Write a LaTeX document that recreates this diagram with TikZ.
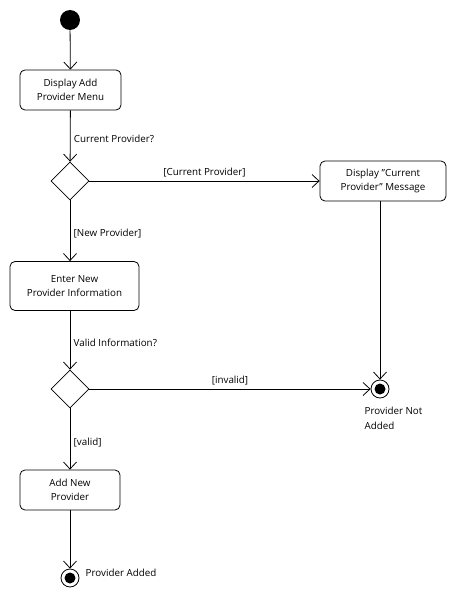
\documentclass[tikz,border=0pt]{standalone}
\usepackage{fontspec}
\setmainfont{Open Sans}
\usetikzlibrary{arrows.meta,shapes.geometric}

\tikzset{
  action/.style={draw, rounded corners=5pt, align=center, inner sep=0pt, minimum height=40pt},
  decision/.style={draw, diamond, shape aspect=1, inner sep=0pt, minimum width=38pt, minimum height=38pt},
  initial/.style={circle, fill=black, inner sep=0pt, minimum size=20pt},
  final/.style={circle, draw, inner sep=0pt, minimum size=18pt},
  flow/.style={-{Straight Barb[length=7pt,width=13pt]}},
  guard/.style={font=\fontsize{9.8}{15}\selectfont}
}

\begin{document}
\begin{tikzpicture}[x=1pt,y=-1pt, font=\fontsize{9.8}{14.5}\selectfont, line width=0.8pt]
    \useasboundingbox (0,0) rectangle (470,610);

    % nodes
    \node[initial] (start) at (70,20) {};
    \node[action, minimum width=101pt] (menu) at (70.5,90) {Display Add\\Provider Menu};
    \node[decision] (curdec) at (70,181) {};
    \node[action, minimum width=126pt] (curmsg) at (383,181) {Display \char34 Current\\Provider\char34{} Message};
    \node[action, minimum width=129pt, minimum height=49pt] (enter) at (74.5,286) {Enter New\\Provider Information};
    \node[decision] (validdec) at (70,389) {};
    \node[final] (notadded) at (380,389) {};
    \fill (notadded) circle (5.5pt);
    \node[action, minimum width=100pt] (add) at (70,490) {Add New\\Provider};
    \node[final] (added) at (70,578) {};
    \fill (added) circle (5.5pt);

    % flows
    \draw[flow] (start) -- (menu);
    \draw[flow] (menu) -- node[pos=0.55, right, guard]{Current Provider?} (curdec);
    \draw[flow] (curdec.east) -- node[above, guard]{[Current Provider]} (curmsg.west);
    \draw[flow] (curdec.south) -- node[pos=0.55, right, guard]{[New Provider]} (curdec.south |- enter.north);
    \draw[flow] (curmsg.south -| notadded) -- (notadded.north);
    \draw[flow] (enter.south -| validdec) -- node[pos=0.55, right, guard]{Valid Information?} (validdec.north);
    \draw[flow] (validdec.east) -- node[above, guard]{[invalid]} (notadded.west);
    \draw[flow] (validdec.south) -- node[pos=0.55, right, guard]{[valid]} (add);
    \draw[flow] (add) -- (added);

    % labels
    \node[anchor=north west, align=left, guard] (notaddedlbl) at (361,403) {Provider Not\\Added};
    \node[anchor=west, guard] (addedlbl) at (82,573) {Provider Added};
\end{tikzpicture}
\end{document}
